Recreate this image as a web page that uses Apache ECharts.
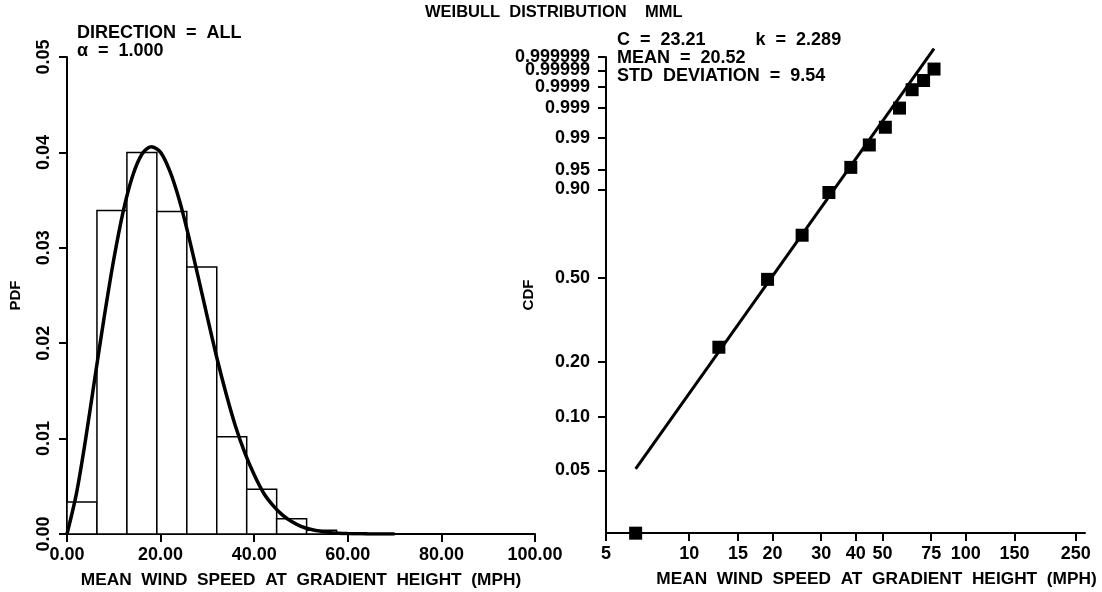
<!DOCTYPE html>
<html>
<head>
<meta charset="utf-8">
<script src="https://cdn.jsdelivr.net/npm/echarts@6/dist/echarts.min.js"></script>
<style>
html,body{margin:0;padding:0;background:#fff;}
#c{width:1102px;height:592px;}
</style>
</head>
<body>
<div id="c"></div>
<script>
// ---------- DATA ----------
const chartTitle = 'WEIBULL  DISTRIBUTION    MML';
const xAxisName = 'MEAN  WIND  SPEED  AT  GRADIENT  HEIGHT  (MPH)';
const leftNotes = ['DIRECTION  =  ALL', 'α  =  1.000'];
const rightNotes = ['C  =  23.21          k  =  2.289', 'MEAN  =  20.52', 'STD  DEVIATION  =  9.54'];

// histogram (PDF) bins
const binEdges = [0, 6.4, 12.8, 19.2, 25.6, 32.0, 38.4, 44.8, 51.2, 57.6, 64.0, 70.4, 76.8];
const binHeights = [0.00335, 0.0339, 0.0400, 0.0338, 0.0280, 0.0102, 0.0047, 0.0016, 0.0004, 0.00012, 0.00003, 0.00002];

// fitted PDF curve
const pdfX = [0,2,4,6,8,10,12,14,16,18,20,22,24,26,28,30,32,34,36,38,40,42,44,46,48,50,52,54,56,58,60,62,64,66,68,70];
const pdfY = [0,0.0042,0.0100,0.0165,0.0229,0.0288,0.0338,0.0375,0.0398,0.0406,0.0400,0.0380,0.0350,0.0312,0.0270,0.0227,0.0185,0.0147,0.0113,0.0085,0.0062,0.0043,0.0030,0.0020,0.0013,0.0008,0.0005,0.0003,0.00017,0.00009,0.00005,0.00003,0.00001,0.000005,0,0];

// left axis ticks
const pdfXTicks = [0, 20, 40, 60, 80, 100];
const pdfYTicks = [0, 0.01, 0.02, 0.03, 0.04, 0.05];

// empirical CDF points (Weibull paper)
const cdfX = [6.4, 12.8, 19.2, 25.6, 32.0, 38.4, 44.8, 51.2, 57.6, 64.0, 70.4, 76.8];
const cdfF = [0.0217, 0.238, 0.494, 0.710, 0.890, 0.955, 0.985, 0.9952, 0.99901, 0.99986, 0.999957, 0.999992];

// fitted line endpoints
const fitX = [6.4, 76.8];
const fitF = [0.0511, 0.99999981];

// right axis ticks
const cdfXTicks = [5, 10, 15, 20, 30, 40, 50, 75, 100, 150, 250];
const cdfYTicks = ['0.05', '0.10', '0.20', '0.50', '0.90', '0.95', '0.99', '0.999', '0.9999', '0.99999', '0.999999'];
const cdfXRange = [5, 270];
const cdfFMin = 0.02175;

// ---------- transforms (Weibull probability paper) ----------
const wy = F => Math.log(-Math.log(1 - F));
const lx = v => Math.log10(v);

const FONT = 'Liberation Sans, Arial, sans-serif';
const txt = {color:'#000', fontFamily: FONT, fontWeight:'bold', fontSize:18};
const nameTxt = {color:'#000', fontFamily: FONT, fontWeight:'bold', fontSize:17.3};

const histData = binHeights.map((h, i) => [binEdges[i], binEdges[i+1], h]);
const pdfData = pdfX.map((x, i) => [x, pdfY[i]]);
const cdfData = cdfX.map((x, i) => [lx(x), wy(cdfF[i])]);
const fitData = fitX.map((x, i) => [lx(x), wy(fitF[i])]);
const yTickVals = cdfYTicks.map(s => wy(parseFloat(s)));
const xTickVals = cdfXTicks.map(lx);
// labels split over two axes so that the two crowded top labels are both drawn
const crowdedIdx = cdfYTicks.indexOf('0.99999');
const yLabelMain = yTickVals.filter((v, i) => i !== crowdedIdx);
const yLabelExtra = [yTickVals[crowdedIdx]];
const cdfLabel = v => { let best=0, d=1e9; yTickVals.forEach((t,i)=>{ if(Math.abs(t-v)<d){d=Math.abs(t-v);best=i;} }); return cdfYTicks[best]; };

const axisLine = {show:true, onZero:false, lineStyle:{color:'#000', width:2}};
const axisTick = {show:true, inside:false, length:8, lineStyle:{color:'#000', width:2}};
const yMin1 = wy(cdfFMin), yMax1 = wy(0.999999) + 1e-9;

const chart = echarts.init(document.getElementById('c'), null, {renderer:'canvas'});
chart.setOption({
  backgroundColor:'#fff',
  animation:false,
  grid:[
    {left:67, top:57, width:468, height:477, containLabel:false, outerBoundsMode:'none'},
    {left:606, top:57, width:479, height:476, containLabel:false, outerBoundsMode:'none'}
  ],
  xAxis:[
    {gridIndex:0, type:'value', min:0, max:100, interval:20,
     axisLine, axisTick, splitLine:{show:false},
     axisLabel:{...txt, margin:12, formatter:v => v.toFixed(2)},
     name:xAxisName, nameLocation:'middle', nameGap:38, nameMoveOverlap:false, nameTextStyle:{...nameTxt}},
    {gridIndex:1, type:'value', min:lx(cdfXRange[0]), max:lx(cdfXRange[1]),
     axisLine, splitLine:{show:false},
     axisTick:{...axisTick, customValues:xTickVals},
     axisLabel:{...txt, margin:12, customValues:xTickVals, showMinLabel:true, showMaxLabel:true,
       formatter:v => String(Math.round(Math.pow(10, v)))},
     name:xAxisName, nameLocation:'middle', nameGap:38, nameMoveOverlap:false, nameTextStyle:{...nameTxt, padding:[0,0,0,62]}}
  ],
  yAxis:[
    {gridIndex:0, type:'value', min:0, max:0.05, interval:0.01,
     axisLine, axisTick, splitLine:{show:false},
     axisLabel:{...txt, margin:14, rotate:90, formatter:v => v.toFixed(2)},
     name:'PDF', nameLocation:'middle', nameGap:44, nameMoveOverlap:false, nameTextStyle:{...txt, fontSize:15}},
    {gridIndex:1, type:'value', min:yMin1, max:yMax1,
     axisLine, splitLine:{show:false},
     axisTick:{...axisTick, customValues:yTickVals},
     axisLabel:{...txt, margin:16, customValues:yLabelMain, showMinLabel:true, showMaxLabel:true, formatter:cdfLabel},
     name:'CDF', nameLocation:'middle', nameGap:70, nameMoveOverlap:false, nameTextStyle:{...txt, fontSize:15}},
    {gridIndex:1, type:'value', min:yMin1, max:yMax1, position:'left',
     axisLine:{show:false}, axisTick:{show:false}, splitLine:{show:false},
     axisLabel:{...txt, margin:16, customValues:yLabelExtra, showMinLabel:true, showMaxLabel:true, formatter:cdfLabel}}
  ],
  series:[
    {type:'custom', xAxisIndex:0, yAxisIndex:0, data:histData, encode:{x:[0,1], y:2}, z:2,
     renderItem:(params, api) => {
       const p0 = api.coord([api.value(0), api.value(2)]);
       const p1 = api.coord([api.value(1), 0]);
       return {type:'rect', shape:{x:p0[0], y:p0[1], width:p1[0]-p0[0], height:p1[1]-p0[1]},
               style:{fill:'#fff', stroke:'#000', lineWidth:1.5}};
     }},
    {type:'line', xAxisIndex:0, yAxisIndex:0, data:pdfData, smooth:0.3, showSymbol:false, z:5,
     lineStyle:{color:'#000', width:3.5}},
    {type:'line', xAxisIndex:1, yAxisIndex:1, data:fitData, showSymbol:false, clip:false, z:5,
     lineStyle:{color:'#000', width:3}},
    {type:'scatter', xAxisIndex:1, yAxisIndex:1, data:cdfData, symbol:'rect', symbolSize:13, clip:false, z:6,
     itemStyle:{color:'#000', opacity:1}}
  ],
  graphic:[
    {type:'text', left:425, top:4, style:{text:chartTitle, fill:'#000', font:'bold 16.5px '+FONT}},
    {type:'text', left:77, top:24, style:{text:leftNotes.join('\n'), fill:'#000', font:'bold 18px '+FONT, lineHeight:18}},
    {type:'text', left:617, top:31, style:{text:rightNotes.join('\n'), fill:'#000', font:'bold 18px '+FONT, lineHeight:18}}
  ]
});
</script>
</body>
</html>
